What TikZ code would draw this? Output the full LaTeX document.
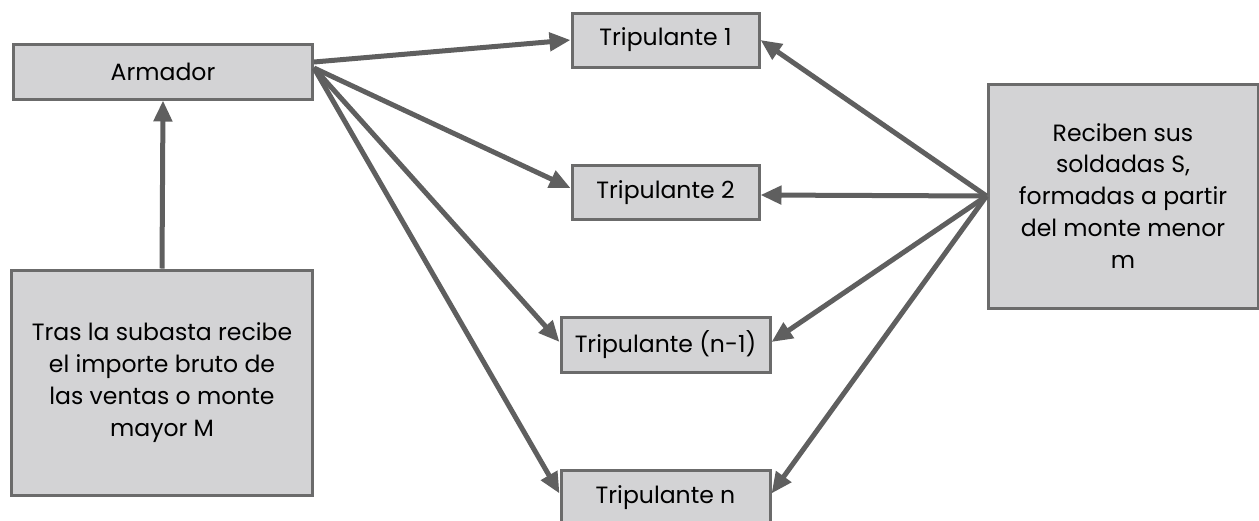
\documentclass[tikz,border=0pt]{standalone}
\usepackage{fontspec}
\setmainfont{Poppins}
\usetikzlibrary{arrows.meta}
\usepackage[rgb]{xcolor}
\definecolor{fondo}{HTML}{D3D3D5}
\definecolor{borde}{HTML}{6B6B6B}
\definecolor{flecha}{HTML}{5F5F5F}
\tikzset{
  caja/.style={draw=borde, fill=fondo, line width=0.6mm, inner sep=0pt, align=center,
    font=\fontsize{13.4}{18.2}\selectfont},
  flechita/.style={draw=flecha, line width=1mm, -{Triangle[length=4.2mm,width=3.6mm]}},
}
\begin{document}
\begin{tikzpicture}[x=0.2mm, y=-0.2mm]
  \useasboundingbox (0,0) rectangle (1259,520);

  \node[caja, minimum width=59.8mm, minimum height=11mm] (arm) at (163,71.5) {Armador};
  \node[caja, minimum width=60mm, minimum height=45mm] (tras) at (162,382.5)
    {Tras la subasta recibe\\el importe bruto de\\las ventas o monte\\mayor M};

  \node[caja, minimum width=37.4mm, minimum height=10.8mm] (t1)  at (665.5,40)    {Tripulante 1};
  \node[caja, minimum width=37.4mm, minimum height=10.8mm] (t2)  at (665.5,192.5) {Tripulante 2};
  \node[caja, minimum width=41.8mm, minimum height=11mm]   (tn1) at (665.5,344.5) {Tripulante (n-1)};
  \node[caja, minimum width=41.8mm, minimum height=11mm]   (tn)  at (665.5,497.5) {Tripulante n};

  \node[caja, minimum width=54mm, minimum height=44.8mm] (der) at (1123,196)
    {Reciben sus\\soldadas S,\\formadas a partir\\del monte menor\\m};

  % el armador reparte
  \draw[flechita] (tras.north) -- (arm.south);
  \draw[flechita] ([yshift=1.9mm]arm.east) -- (t1.west);
  \draw[flechita] ([yshift=0.7mm]arm.east) -- ([yshift=0.9mm]t2.west);
  \draw[flechita] ([yshift=0.7mm]arm.east) -- ([yshift=0.5mm]tn1.west);
  \draw[flechita] ([yshift=0.7mm]arm.east) -- ([yshift=0.8mm]tn.west);

  % soldadas
  \draw[flechita] (der.west) -- (t1.east);
  \draw[flechita] (der.west) -- ([yshift=-0.5mm]t2.east);
  \draw[flechita] (der.west) -- ([yshift=0.5mm]tn1.east);
  \draw[flechita] (der.west) -- ([yshift=0.8mm]tn.east);
\end{tikzpicture}
\end{document}
